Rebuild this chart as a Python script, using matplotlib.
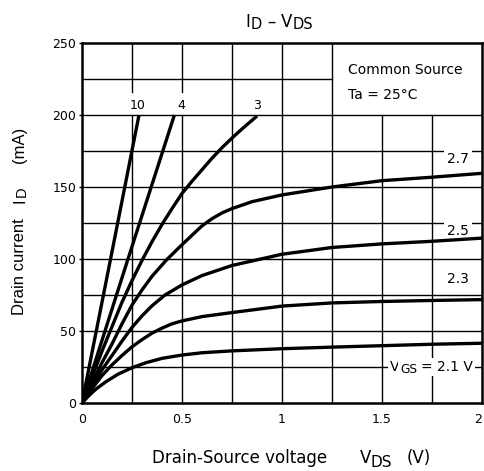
import matplotlib
matplotlib.use("Agg")
import matplotlib.pyplot as plt
from matplotlib.transforms import IdentityTransform

plt.rcParams['font.family'] = ['DejaVu Sans']

# ---- data ----
vds_10 = [0, 0.14, 0.285]
id_10 = [0, 98, 200]

vds_4 = [0, 0.23, 0.462]
id_4 = [0, 100, 200]

vds_3 = [0, 0.05, 0.1, 0.15, 0.2, 0.25, 0.3, 0.35, 0.4, 0.45, 0.5, 0.55, 0.6, 0.65, 0.7, 0.75, 0.8, 0.875]
id_3 = [0, 18, 36, 53, 70, 85, 99, 112, 124, 135, 145.5, 154, 162, 170, 177.3, 184, 190.3, 199.3]

vds_27 = [0, 0.05, 0.1, 0.15, 0.2, 0.25, 0.3, 0.35, 0.42, 0.49, 0.55, 0.6, 0.65, 0.7, 0.75, 0.85, 1.0, 1.25, 1.5, 1.75, 2.0]
id_27 = [0, 14, 28, 41, 55, 68, 78.5, 88, 99, 108.6, 116.5, 123, 128, 132, 135, 139.8, 144.5, 150, 154.4, 156.8, 159.5]

vds_25 = [0, 0.05, 0.1, 0.15, 0.2, 0.25, 0.3, 0.35, 0.415, 0.5, 0.6, 0.75, 1.0, 1.25, 1.5, 1.75, 2.0]
id_25 = [0, 12, 23, 33, 43, 52.5, 60.5, 67.5, 75, 82, 88.5, 95.5, 103.3, 108, 110.5, 112.3, 114.5]

vds_23 = [0, 0.05, 0.1, 0.15, 0.2, 0.25, 0.3, 0.35, 0.4, 0.45, 0.5, 0.6, 0.75, 1.0, 1.25, 1.5, 1.75, 2.0]
id_23 = [0, 10, 19, 26.5, 33, 39, 44, 48.5, 52, 55, 57, 60, 62.8, 67.3, 69.5, 70.5, 71.2, 71.8]

vds_21 = [0, 0.03, 0.07, 0.12, 0.18, 0.25, 0.32, 0.4, 0.5, 0.6, 0.75, 1.0, 1.25, 1.5, 1.75, 2.0]
id_21 = [0, 4.5, 9.7, 14.8, 20, 24.5, 28, 31, 33.3, 34.9, 36.2, 37.7, 38.8, 39.8, 40.8, 41.5]

curves = [(vds_10, id_10), (vds_4, id_4), (vds_3, id_3), (vds_27, id_27),
          (vds_25, id_25), (vds_23, id_23), (vds_21, id_21)]

x_ticks = [0, 0.5, 1, 1.5, 2]
x_ticklabels = ['0', '0.5', '1', '1.5', '2']
y_ticks = [0, 50, 100, 150, 200, 250]

W, H = 484, 471
fig = plt.figure(figsize=(W / 100, H / 100), dpi=100)
ax = fig.add_axes([82 / W, 1 - 403 / H, 400 / W, 360 / H])
ax.set_xlim(0, 2)
ax.set_ylim(0, 250)

gcol = 'black'
glw = 1.0
for xv in [0.25, 0.5]:
    ax.plot([xv, xv], [0, 200], color=gcol, lw=glw, zorder=1)
    ax.plot([xv, xv], [216, 250], color=gcol, lw=glw, zorder=1)
for xv in [0.75, 1.0, 1.25]:
    ax.plot([xv, xv], [0, 250], color=gcol, lw=glw, zorder=1)
for xv in [1.5, 1.75]:
    ax.plot([xv, xv], [0, 200], color=gcol, lw=glw, zorder=1)
for yv in [25, 50, 75, 100, 125, 150, 175, 200]:
    ax.plot([0, 2], [yv, yv], color=gcol, lw=glw, zorder=1)
ax.plot([0, 1.25], [225, 225], color=gcol, lw=glw, zorder=1)

for vx, iy in curves:
    ax.plot(vx, iy, color='black', lw=2.4, solid_capstyle='butt',
            solid_joinstyle='round', zorder=4)

ID = IdentityTransform()


def pieces(x0, y0, parts, rotation=0, family='DejaVu Sans', **kw):
    """parts: (text, fontsize, offset_along_px, drop_px); x0,y0 in pixels from bottom-left."""
    for s, fs, off, drop in parts:
        if rotation == 0:
            fig.text(x0 + off, y0 - drop, s, fontsize=fs, family=family, ha='left',
                     va='baseline', transform=ID, **kw)
        else:
            fig.text(x0 + drop, y0 + off, s, fontsize=fs, family=family, rotation=90,
                     rotation_mode='anchor', ha='left', va='baseline', transform=ID, **kw)


fs = 10
bb = dict(boxstyle='square,pad=0.2', fc='white', ec='none')
ax.text(0.277, 204, '10', ha='center', va='baseline', fontsize=9, zorder=3)
ax.text(0.498, 204, '4', ha='center', va='baseline', fontsize=9, zorder=3)
ax.text(0.873, 204, '3', ha='center', va='baseline', fontsize=9, zorder=3)
ax.text(1.88, 166.7, '2.7', ha='center', va='baseline', fontsize=fs, zorder=3, bbox=bb)
ax.text(1.88, 116.7, '2.5', ha='center', va='baseline', fontsize=fs, zorder=3, bbox=bb)
ax.text(1.88, 83.3, '2.3', ha='center', va='baseline', fontsize=fs, zorder=3, bbox=bb)
ax.text(1.33, 228.5, 'Common Source', ha='left', va='baseline', fontsize=fs)
ax.text(1.33, 211, 'Ta = 25°C', ha='left', va='baseline', fontsize=fs)

vx0, vy0 = ax.transData.transform((1.54, 22.4))
bbs = dict(boxstyle='square,pad=0.15', fc='white', ec='none')
pieces(vx0, vy0, [('V', fs, 0, 0), ('GS', 8.8, 10, 2), ('= 2.1 V', fs, 31, 0)],
       bbox=bbs, zorder=3)

for s in ax.spines.values():
    s.set_linewidth(1.8)
ax.set_xticks(x_ticks)
ax.set_xticklabels(x_ticklabels)
ax.set_yticks(y_ticks)
ax.tick_params(axis='x', length=0, pad=7, labelsize=9)
ax.tick_params(axis='y', length=2, width=1, pad=2, labelsize=9)
# keep the last x tick label inside the picture
ax.get_xticklabels()[-1].set_horizontalalignment('right')

pieces(245, H - 27, [('I', 12, 0, 0), ('D', 10.5, 6, 2), ('–', 12, 22, 0),
                     ('V', 12, 36, 0), ('DS', 10.5, 48, 2)])
pieces(152, H - 463, [('Drain-Source voltage', 12, 0, 0), ('V', 12, 208, 0),
                      ('DS', 11, 218, 4), ('(V)', 12, 255, 0)])
pieces(24, H - 315, [('Drain current', 12, 0, 0), ('I', 12, 112, 0),
                     ('D', 10.5, 118, 2), ('(mA)', 12, 152, 0)],
       rotation=90, family='Liberation Sans')

fig.savefig('out.png', dpi=100)
